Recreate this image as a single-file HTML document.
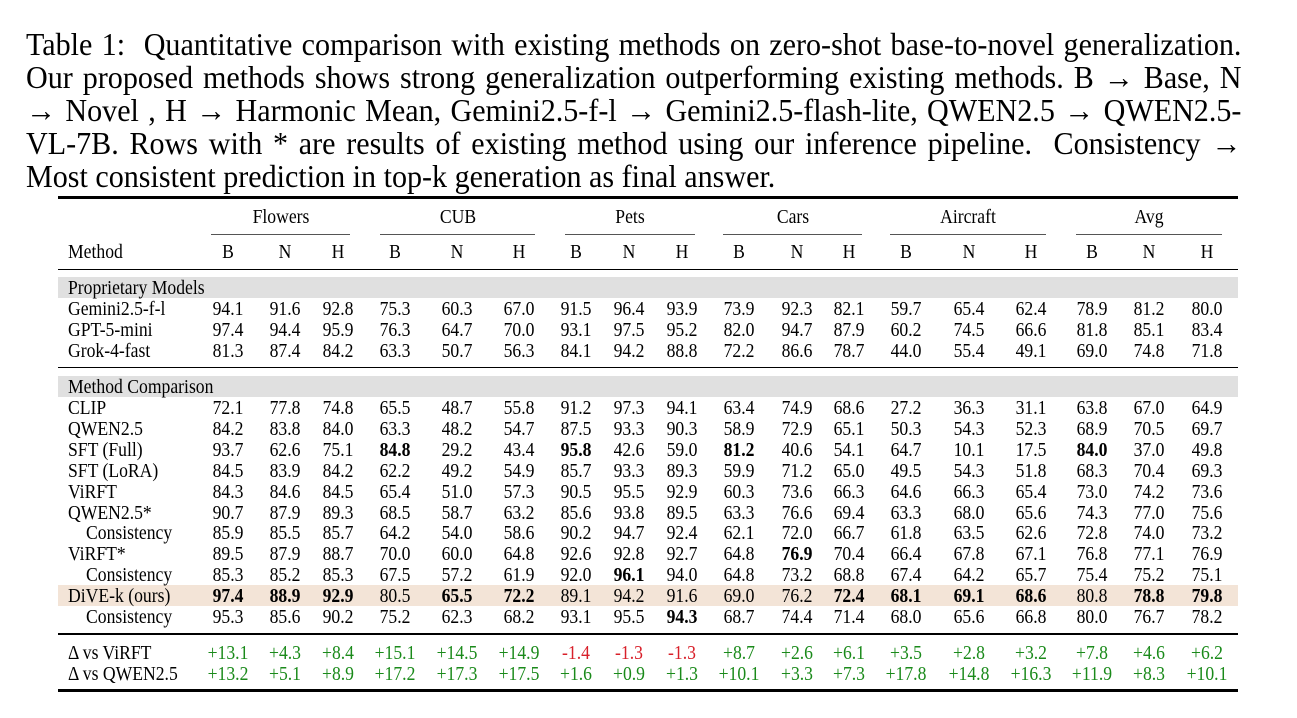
<!DOCTYPE html>
<html><head><meta charset="utf-8">
<style>
body{margin:0;width:1297px;height:718px;background:#fff;position:relative;overflow:hidden;font-family:"Liberation Serif",serif;color:#000}
.cap{position:absolute;left:26px;top:28px;width:1293px;font-size:32px;line-height:33px;transform:scaleX(0.94);transform-origin:left top}
.cap div{white-space:nowrap;text-align:justify;text-align-last:justify;height:33px}
.cap div.last{text-align-last:left}
.t{position:absolute;font-size:20.5px;white-space:nowrap;line-height:20px;transform:translateX(-50%) scaleX(0.86)}
.l{position:absolute;font-size:20.5px;white-space:nowrap;line-height:20px;transform:scaleX(0.86);transform-origin:left center}
.hl{position:absolute;background:#000}
.band{position:absolute;left:58px;width:1180px;height:21px}
</style></head><body>
<div class="cap">
<div>Table 1:&nbsp; Quantitative comparison with existing methods on zero-shot base-to-novel generalization.</div>
<div>Our proposed methods shows strong generalization outperforming existing methods. B → Base, N</div>
<div>→ Novel , H → Harmonic Mean, Gemini2.5-f-l → Gemini2.5-flash-lite, QWEN2.5 → QWEN2.5-</div>
<div>VL-7B. Rows with * are results of existing method using our inference pipeline.&nbsp; Consistency →</div>
<div class="last">Most consistent prediction in top-k generation as final answer.</div>
</div>
<div id="tbl"></div>
<script>
const groups=["Flowers","CUB","Pets","Cars","Aircraft","Avg"];
const subs=["B","N","H"];
const methods=["Gemini2.5-f-l","GPT-5-mini","Grok-4-fast","CLIP","QWEN2.5","SFT (Full)","SFT (LoRA)","ViRFT","QWEN2.5*","Consistency","ViRFT*","Consistency","DiVE-k (ours)","Consistency","Δ vs ViRFT","Δ vs QWEN2.5"];
const rowY=[308,329,350,407,428,449,470,491,512,532,553,574,595,616,652,673];
const indent=[0,0,0,0,0,0,0,0,0,1,0,1,0,1,0,0];
const values=[
"94.1 91.6 92.8 75.3 60.3 67.0 91.5 96.4 93.9 73.9 92.3 82.1 59.7 65.4 62.4 78.9 81.2 80.0",
"97.4 94.4 95.9 76.3 64.7 70.0 93.1 97.5 95.2 82.0 94.7 87.9 60.2 74.5 66.6 81.8 85.1 83.4",
"81.3 87.4 84.2 63.3 50.7 56.3 84.1 94.2 88.8 72.2 86.6 78.7 44.0 55.4 49.1 69.0 74.8 71.8",
"72.1 77.8 74.8 65.5 48.7 55.8 91.2 97.3 94.1 63.4 74.9 68.6 27.2 36.3 31.1 63.8 67.0 64.9",
"84.2 83.8 84.0 63.3 48.2 54.7 87.5 93.3 90.3 58.9 72.9 65.1 50.3 54.3 52.3 68.9 70.5 69.7",
"93.7 62.6 75.1 84.8! 29.2 43.4 95.8! 42.6 59.0 81.2! 40.6 54.1 64.7 10.1 17.5 84.0! 37.0 49.8",
"84.5 83.9 84.2 62.2 49.2 54.9 85.7 93.3 89.3 59.9 71.2 65.0 49.5 54.3 51.8 68.3 70.4 69.3",
"84.3 84.6 84.5 65.4 51.0 57.3 90.5 95.5 92.9 60.3 73.6 66.3 64.6 66.3 65.4 73.0 74.2 73.6",
"90.7 87.9 89.3 68.5 58.7 63.2 85.6 93.8 89.5 63.3 76.6 69.4 63.3 68.0 65.6 74.3 77.0 75.6",
"85.9 85.5 85.7 64.2 54.0 58.6 90.2 94.7 92.4 62.1 72.0 66.7 61.8 63.5 62.6 72.8 74.0 73.2",
"89.5 87.9 88.7 70.0 60.0 64.8 92.6 92.8 92.7 64.8 76.9! 70.4 66.4 67.8 67.1 76.8 77.1 76.9",
"85.3 85.2 85.3 67.5 57.2 61.9 92.0 96.1! 94.0 64.8 73.2 68.8 67.4 64.2 65.7 75.4 75.2 75.1",
"97.4! 88.9! 92.9! 80.5 65.5! 72.2! 89.1 94.2 91.6 69.0 76.2 72.4! 68.1! 69.1! 68.6! 80.8 78.8! 79.8!",
"95.3 85.6 90.2 75.2 62.3 68.2 93.1 95.5 94.3! 68.7 74.4 71.4 68.0 65.6 66.8 80.0 76.7 78.2",
"+13.1 +4.3 +8.4 +15.1 +14.5 +14.9 -1.4 -1.3 -1.3 +8.7 +2.6 +6.1 +3.5 +2.8 +3.2 +7.8 +4.6 +6.2",
"+13.2 +5.1 +8.9 +17.2 +17.3 +17.5 +1.6 +0.9 +1.3 +10.1 +3.3 +7.3 +17.8 +14.8 +16.3 +11.9 +8.3 +10.1"
];
const colX=[228,285,338,395,457,519,576,629,682,739,797,849,906,969,1031,1092,1149,1207];
const grpL=[211,380,565,723,890,1076],grpR=[350,535,695,862,1046,1222];
const T=document.getElementById('tbl');
function add(cls,txt,x,y,name,extra){const d=document.createElement('div');d.className=cls;d.textContent=txt;d.style.left=x+'px';d.style.top=(y-9)+'px';if(extra)Object.assign(d.style,extra);


T.appendChild(d);return d;}
function box(cls,x,y,w,h,bg,name){const d=document.createElement('div');d.className=cls;Object.assign(d.style,{left:x+'px',top:y+'px',width:w+'px',height:h+'px'});if(bg)d.style.background=bg;


T.appendChild(d);}
box('band',58,277,1180,21,'#e0e0e0','proprietary-band');
box('band',58,376,1180,21,'#e0e0e0','method-comparison-band');
box('band',58,585,1180,21,'#f3e4d7','dive-k-highlight');
box('hl',58,196,1180,2.5,null,'top-rule');
box('hl',58,269,1180,1.3,null,'header-rule');
box('hl',58,367,1180,1.3,null,'section-rule');
box('hl',58,633,1180,2,null,'delta-rule');
box('hl',58,689,1180,2.5,null,'bottom-rule');
groups.forEach((g,i)=>{add('t',g,(grpL[i]+grpR[i])/2,216,'group-header-'+g.toLowerCase());box('hl',grpL[i],234,grpR[i]-grpL[i],1,'#555','group-underline');
subs.forEach((s,j)=>add('t',s,colX[i*3+j],251,'subheader-'+s.toLowerCase()));});
add('l','Method',68,251,'method-header');
add('l','Proprietary Models',68,287,'section-proprietary');
add('l','Method Comparison',68,386,'section-method-comparison');
methods.forEach((m,r)=>{add('l',m,indent[r]?86:68,rowY[r],'row-label');
values[r].split(' ').forEach((v,c)=>{const b=v.endsWith('!');const t=b?v.slice(0,-1):v;const ex={};if(b)ex.fontWeight='bold';
if(r>=14)ex.color=t.startsWith('-')?'#d8202a':'#1a8a1a';
add('t',t,colX[c],rowY[r],'cell-value',ex);});});
</script>
</body></html>
